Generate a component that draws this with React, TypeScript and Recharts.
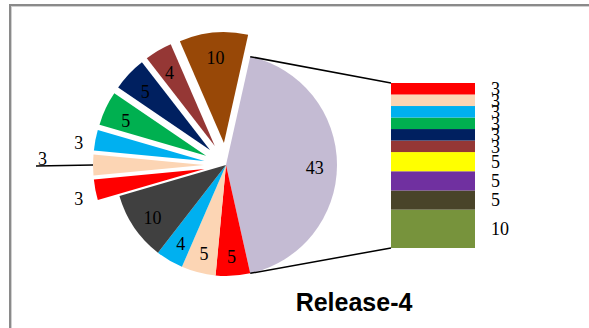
import React from 'react';
import { PieChart, Pie, Cell, Sector, BarChart, Bar, XAxis, YAxis, LabelList } from 'recharts';

// ---- Data ----
const pieCategories = ['A', 'B', 'C', 'D', 'E', 'F', 'G', 'H', 'I', 'J', 'K', 'L'];
const pieValues = [43, 5, 5, 4, 10, 3, 3, 3, 5, 5, 4, 10];
const pieColors = ['#C4BBD3', '#FF0000', '#FCD5B4', '#00B0F0', '#404040', '#FF0000', '#FCD5B4', '#00B0F0', '#00B050', '#002060', '#953735', '#984807'];
const pieExploded = [false, false, false, false, false, true, true, true, true, true, true, true];
const pieLabelModes = ['in', 'in', 'in', 'in', 'in', 'out', 'leader', 'out', 'in', 'in', 'in', 'in'];

const barCategories = ['Other'];
const barValues = [3, 3, 3, 3, 3, 3, 5, 5, 5, 10];
const barColors = ['#FF0000', '#FCD5B4', '#00B0F0', '#00B050', '#002060', '#953735', '#FFFF00', '#7030A0', '#494429', '#77933C'];

const title = 'Release-4';

// ---- Layout / style ----
const W = 589;
const H = 328;
const PIE_CX = 226;
const PIE_CY = 165;
const PIE_R = 111;
const EXPLODE = 22;
const LABEL_FONT = 'Liberation Serif, Times New Roman, serif';

const pieTotal = pieValues.reduce((a, b) => a + b, 0);
const pieStart = (pieValues[0] / pieTotal) * 180;
const pieData = pieCategories.map((c, i) => ({ name: c, value: pieValues[i] }));

const barTotal = barValues.reduce((a, b) => a + b, 0);
const barRow: Record<string, any> = { name: barCategories[0] };
barValues.forEach((v, i) => {
  barRow[`s${i}`] = v;
});
const barData = [barRow];

const RAD = Math.PI / 180;
const polar = (cx: number, cy: number, r: number, angle: number) => ({
  x: cx + r * Math.cos(-angle * RAD),
  y: cy + r * Math.sin(-angle * RAD),
});

const pieTop = polar(PIE_CX, PIE_CY, PIE_R, pieStart);
const pieBottom = polar(PIE_CX, PIE_CY, PIE_R, pieStart - (pieValues[0] / pieTotal) * 360);

const renderPieLabel = (p: any) => {
  const { cx, cy, midAngle, outerRadius, startAngle, endAngle, index, value } = p;
  const e = pieExploded[index] ? EXPLODE : 0;
  const o = polar(cx, cy, e, midAngle);
  const mode = pieLabelModes[index];
  const textProps = {
    fontFamily: LABEL_FONT,
    fontSize: 18,
    fill: '#000',
  };
  let content: React.ReactNode = null;
  if (mode === 'in') {
    const t = polar(o.x, o.y, outerRadius * 0.8, midAngle);
    content = (
      <text x={t.x} y={t.y + 3} textAnchor="middle" dominantBaseline="central" {...textProps}>
        {value}
      </text>
    );
  } else if (mode === 'out') {
    const t = polar(o.x, o.y, outerRadius + 17, midAngle);
    content = (
      <text x={t.x} y={t.y + 6} textAnchor="middle" dominantBaseline="central" {...textProps}>
        {value}
      </text>
    );
  } else {
    const s = polar(o.x, o.y, outerRadius, midAngle);
    const ex = s.x - 57;
    content = (
      <g>
        <line x1={s.x} y1={s.y} x2={ex} y2={s.y + 1} stroke="#000" strokeWidth={1.5} />
        <text x={ex + 2} y={s.y} textAnchor="start" {...textProps}>
          {value}
        </text>
      </g>
    );
  }
  return (
    <g key={`pl-${index}`}>
      {e > 0 && (
        <Sector
          cx={o.x}
          cy={o.y}
          innerRadius={0}
          outerRadius={outerRadius}
          startAngle={startAngle}
          endAngle={endAngle}
          fill={pieColors[index]}
          stroke="none"
        />
      )}
      {content}
    </g>
  );
};

const makeBarShape = (i: number) => (props: any) => {
  const { x, y, width, height, fill } = props;
  return (
    <g>
      <rect x={x} y={y} width={width} height={height} fill={fill} />
      {i === 0 && (
        <line x1={pieTop.x} y1={pieTop.y} x2={x} y2={y} stroke="#000" strokeWidth={1.5} />
      )}
      {i === barValues.length - 1 && (
        <line x1={x} y1={y + height} x2={pieBottom.x} y2={pieBottom.y} stroke="#000" strokeWidth={1.5} />
      )}
    </g>
  );
};

const abs: React.CSSProperties = { position: 'absolute', left: 0, top: 0 };

export default function App() {
  const order = barValues.map((_, i) => i).reverse();
  return (
    <div style={{ position: 'absolute', left: 0, top: 0, width: W, height: H, overflow: 'hidden', background: '#fff' }}>
      <div
        style={{
          position: 'absolute',
          left: 9,
          top: 4,
          width: 700,
          height: 500,
          border: '2px solid #8a8a8a',
          boxShadow: 'inset 1px 1px 0 #d0d0d0',
        }}
      />
      <div style={abs}>
        <PieChart width={W} height={H} margin={{ top: 0, right: 0, bottom: 0, left: 0 }}>
          <Pie
            data={pieData}
            dataKey="value"
            nameKey="name"
            cx={PIE_CX}
            cy={PIE_CY}
            innerRadius={0}
            outerRadius={PIE_R}
            startAngle={pieStart}
            endAngle={pieStart - 360}
            stroke="none"
            label={renderPieLabel}
            labelLine={false}
            isAnimationActive={false}
          >
            {pieData.map((_, i) => (
              <Cell key={i} fill={pieExploded[i] ? 'transparent' : pieColors[i]} stroke="none" />
            ))}
          </Pie>
        </PieChart>
      </div>
      <div style={abs}>
        <BarChart
          width={W}
          height={H}
          data={barData}
          margin={{ top: 83, right: 114, bottom: 80, left: 391 }}
          barCategoryGap={0}
          barGap={0}
        >
          <XAxis dataKey="name" hide />
          <YAxis hide domain={[0, barTotal]} type="number" />
          {order.map((i) => (
            <Bar
              key={i}
              dataKey={`s${i}`}
              stackId="a"
              fill={barColors[i]}
              isAnimationActive={false}
              shape={makeBarShape(i)}
            >
              <LabelList
                dataKey={`s${i}`}
                position="right"
                offset={16}
                fill="#000"
                fontFamily={LABEL_FONT}
                fontSize={18}
              />
            </Bar>
          ))}
        </BarChart>
      </div>
      <svg style={abs} width={W} height={H}>
        <text
          x={354}
          y={311}
          textAnchor="middle"
          fontFamily="Liberation Sans, Arial, sans-serif"
          fontWeight="bold"
          fontSize={25}
          fill="#000"
        >
          {title}
        </text>
      </svg>
    </div>
  );
}
